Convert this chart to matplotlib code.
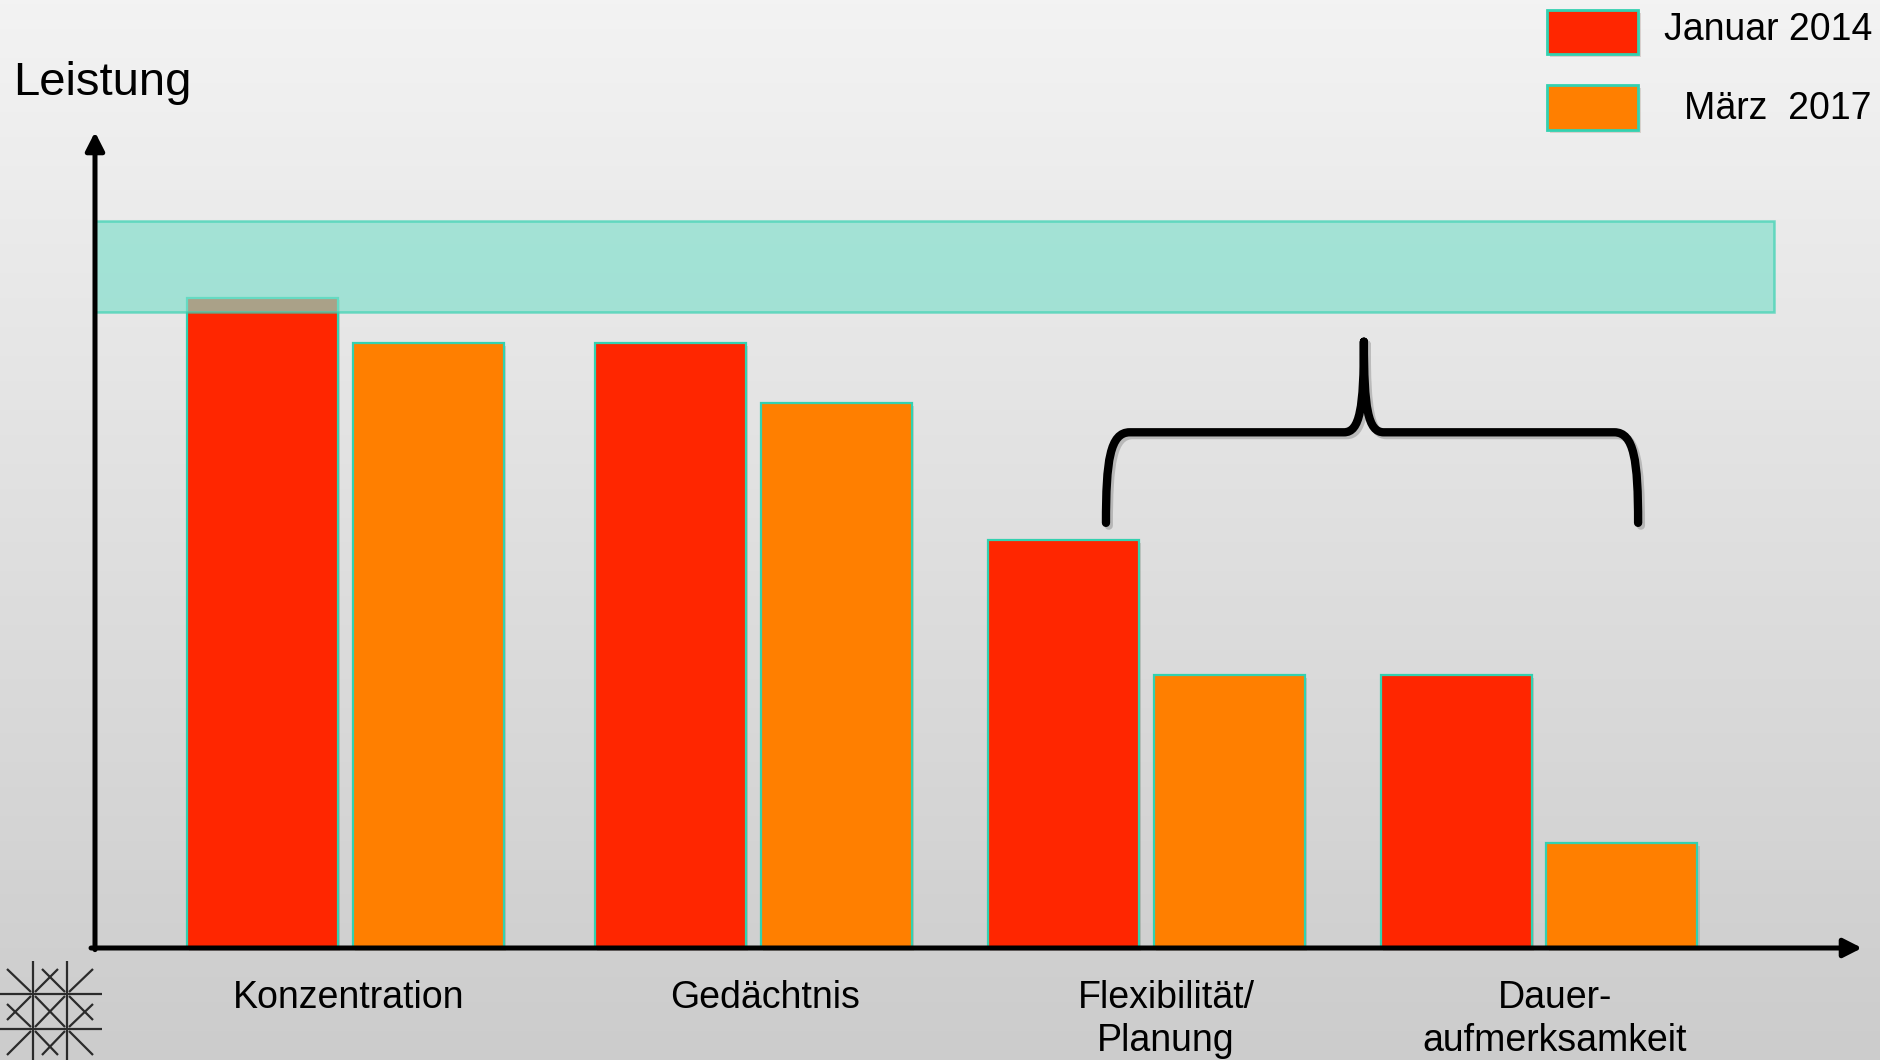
import matplotlib
matplotlib.use('Agg')
import matplotlib.pyplot as plt
import matplotlib.patheffects as pe
from matplotlib.patches import Rectangle, PathPatch
from matplotlib.path import Path
import numpy as np

plt.rcParams['font.family'] = ['Liberation Sans', 'DejaVu Sans']

# data
categories = ['Konzentration', 'Gedächtnis', 'Flexibilität/\nPlanung', 'Dauer-\naufmerksamkeit']
series_names = ['Januar 2014', 'März  2017']
jan_2014 = [7.97, 7.41, 5.0, 3.34]
maerz_2017 = [7.41, 6.68, 3.34, 1.29]
norm_low, norm_high = 7.79, 8.91   # band of normal performance

red = '#ff2600'
orange = '#ff7f00'
edge = '#33d1b0'

W, H = 1881, 1060
fig = plt.figure(figsize=(W / 100, H / 100), dpi=100)
ax = fig.add_axes([0, 0, 1, 1])

# pixel -> data mapping of the canvas (one x unit 398 px, one y unit 81.6 px)
x0_px, pitch = 345, 398
base_px, unit = 948, 81.6
xlim = (-x0_px / pitch, (W - x0_px) / pitch)
ylim = ((base_px - H) / unit, base_px / unit)
ax.set_xlim(*xlim)
ax.set_ylim(*ylim)
ax.axis('off')

# soft grey gradient background
grad = np.linspace(0, 1, 256).reshape(-1, 1)
top_c, bot_c = np.array([0.953, 0.953, 0.953]), np.array([0.80, 0.80, 0.80])
img = top_c * (1 - grad[..., None]) + bot_c * grad[..., None]
img = img.reshape(256, 1, 3)
ax.imshow(img, extent=[xlim[0], xlim[1], ylim[0], ylim[1]], aspect='auto', zorder=0)

# group centres (slide layout is not evenly spaced)
group_px = np.array([345, 753, 1146, 1539])
x = (group_px - x0_px) / pitch
bw = 151 / pitch
off = 83 / pitch
shadow = [pe.SimplePatchShadow(offset=(2, -2), alpha=0.14), pe.Normal()]
for xs, vals, col in [(x - off, jan_2014, red), (x + off, maerz_2017, orange)]:
    bars = ax.bar(xs, vals, width=bw, color=col, edgecolor=edge, linewidth=1.6, zorder=3)
    for b in bars:
        b.set_path_effects(shadow)

# axes with arrows
ax_x = (95 - x0_px) / pitch
x_end = (1862 - x0_px) / pitch
y_end = 10.0
arrow = dict(arrowstyle='-|>,head_length=0.55,head_width=0.28', lw=3.6, color='black',
             mutation_scale=20, shrinkA=0, shrinkB=0)
ax.annotate('', xy=(ax_x, y_end), xytext=(ax_x, -0.02), arrowprops=arrow, zorder=6)
ax.annotate('', xy=(x_end, 0), xytext=(ax_x - 0.01, 0), arrowprops=arrow, zorder=6)

# normal range band
band_right = (1774 - x0_px) / pitch
band = Rectangle((ax_x, norm_low), band_right - ax_x, norm_high - norm_low,
                 facecolor='#80dfcc', alpha=0.67, edgecolor=edge, linewidth=1.8, zorder=5)
ax.add_patch(band)

# curly bracket over the last two groups
xl, xm, xr = 1.912, 2.56, 3.249
yb, yh, yp = 5.21, 6.32, 7.43
verts = [(xl, yb), (xl, yh - 0.35), (xl + 0.01, yh), (xl + 0.06, yh),
         (xm - 0.05, yh),
         (xm - 0.01, yh), (xm, yh + 0.3), (xm, yp),
         (xm, yp),
         (xm, yh + 0.3), (xm + 0.01, yh), (xm + 0.05, yh),
         (xr - 0.06, yh),
         (xr - 0.01, yh), (xr, yh - 0.35), (xr, yb)]
codes = [Path.MOVETO, Path.CURVE4, Path.CURVE4, Path.CURVE4,
         Path.LINETO,
         Path.CURVE4, Path.CURVE4, Path.CURVE4,
         Path.MOVETO,
         Path.CURVE4, Path.CURVE4, Path.CURVE4,
         Path.LINETO,
         Path.CURVE4, Path.CURVE4, Path.CURVE4]
brace = PathPatch(Path(verts, codes), facecolor='none', edgecolor='black', lw=6,
                  capstyle='round', joinstyle='round', zorder=6,
                  path_effects=[pe.SimpleLineShadow(offset=(2, -2), alpha=0.18), pe.Normal()])
ax.add_patch(brace)

# category labels, one text per line
nudge = [0.01, 0.03, 0.05, 0.04]
line_step = 43 / unit
for i, lab in enumerate(categories):
    for k, line in enumerate(lab.split('\n')):
        ax.text(x[i] + nudge[i], -0.73 - k * line_step, line, ha='center', va='baseline',
                fontsize=27, color='black', zorder=7)

ax.text(13 / W, 1 - 95 / H, 'Leistung', transform=ax.transAxes, fontsize=34,
        ha='left', va='baseline')

# legend
for (yb_px, h_px, col, name, base_txt) in [(54, 44, red, series_names[0], 40),
                                           (130, 45, orange, series_names[1], 119)]:
    r = Rectangle((1547 / W, 1 - yb_px / H), 91 / W, h_px / H, transform=ax.transAxes,
                  facecolor=col, edgecolor=edge, linewidth=2, zorder=7)
    r.set_path_effects(shadow)
    ax.add_patch(r)
    ax.text(1872 / W, 1 - base_txt / H, name, transform=ax.transAxes, fontsize=27,
            ha='right', va='baseline', zorder=7)

# small logo bottom left
lax = fig.add_axes([0, 0, 102 / W, 99 / H])
lax.set_xlim(0, 102)
lax.set_ylim(1060, 961)
lax.axis('off')
segs = [((0, 994), (102, 994)), ((0, 1029), (102, 1029)),
        ((33, 961), (33, 1060)), ((67, 961), (67, 1060)),
        ((7, 969), (31, 992)), ((93, 969), (69, 992)),
        ((7, 1055), (31, 1031)), ((93, 1055), (69, 1031)),
        ((35, 996), (65, 1027)), ((65, 996), (35, 1027)),
        ((42, 969), (65, 992)), ((58, 969), (35, 992)),
        ((35, 1031), (58, 1055)), ((65, 1031), (42, 1055)),
        ((7, 1004), (31, 1027)), ((7, 1020), (31, 996)),
        ((93, 1004), (69, 1027)), ((93, 1020), (69, 996))]
for (a, b) in segs:
    lax.plot([a[0], b[0]], [a[1], b[1]], color='#2b2b2b', lw=1.6, solid_capstyle='butt')

fig.savefig('out.png', dpi=100)
